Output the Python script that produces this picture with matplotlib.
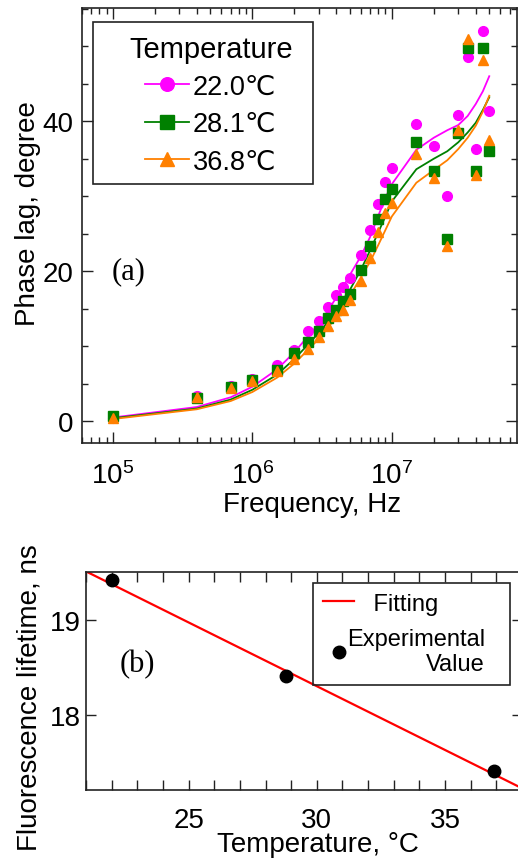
import numpy as np
import matplotlib
matplotlib.use("Agg")
from matplotlib import pyplot as plt
from matplotlib.lines import Line2D
from matplotlib.patches import Rectangle
from matplotlib.ticker import MultipleLocator, LogLocator, NullFormatter

plt.rcParams['font.family'] = ['Liberation Sans', 'DejaVu Sans']
plt.rcParams['mathtext.fontset'] = 'custom'
plt.rcParams['mathtext.rm'] = 'Liberation Sans'
plt.rcParams['mathtext.it'] = 'Liberation Sans'

# (a) phase lag vs frequency
freq = [1e5, 4e5, 7e5, 1e6, 1.5e6, 2e6, 2.5e6, 3e6, 3.5e6, 4e6, 4.5e6, 5e6, 6e6, 7e6,
        8e6, 9e6, 1e7, 1.5e7, 2e7, 2.5e7, 3e7, 3.5e7, 4e7, 4.5e7, 5e7]
temps_a = ['22.0℃', '28.1℃', '36.8℃']
pts_22 = [0.4, 3.4, 4.7, 5.7, 7.5, 9.5, 12.0, 13.4, 15.3, 16.8, 17.9, 19.1, 22.2, 25.5,
          29.0, 31.9, 33.8, 39.6, 36.7, 30.0, 40.8, 48.5, 36.3, 52.0, 41.3]
pts_28 = [0.7, 3.1, 4.6, 5.5, 6.9, 9.1, 10.6, 12.1, 13.8, 14.9, 16.0, 16.9, 20.1, 23.3,
          26.9, 29.6, 31.0, 37.2, 33.3, 24.3, 38.4, 49.7, 33.4, 49.7, 36.0]
pts_36 = [0.5, 3.2, 4.5, 5.4, 6.7, 8.3, 9.7, 11.2, 12.7, 14.0, 14.9, 16.2, 18.7, 21.7,
          25.2, 27.7, 29.1, 35.6, 32.4, 23.3, 38.8, 51.0, 32.8, 48.1, 37.5]
fit_22 = [0.5, 1.9, 3.2, 4.6, 6.9, 9.2, 11.3, 13.0, 14.8, 16.5, 18.0, 19.5, 22.0, 24.6,
          27.4, 29.8, 31.6, 36.2, 37.8, 38.8, 39.5, 40.7, 42.3, 44.0, 46.0]
fit_28 = [0.4, 1.7, 2.9, 4.2, 6.2, 8.3, 10.2, 11.8, 13.3, 14.8, 16.3, 17.5, 20.2, 22.8,
          25.2, 27.3, 29.3, 33.6, 35.0, 36.0, 37.2, 38.5, 39.8, 41.5, 43.2]
fit_36 = [0.3, 1.6, 2.7, 3.9, 5.8, 7.7, 9.5, 11.0, 12.5, 14.0, 15.5, 16.7, 19.2, 21.3,
          23.5, 25.5, 27.3, 31.8, 33.5, 34.8, 36.3, 37.8, 39.4, 41.3, 43.4]

# (b) lifetime vs temperature
temp_b = [22.0, 28.8, 36.9]
lifetime = [19.42, 18.41, 17.41]
fit_slope = -0.134
fit_icept = 22.32

colors = ['#FF00FF', '#008000', '#FF8000']
markers = ['o', 's', '^']
spine_c = '#222222'

fig = plt.figure(figsize=(5.18, 8.62), dpi=100)

# ---- top panel
ax1 = fig.add_axes([0.1583, 0.4849, 0.8397, 0.5047])
for p, f, c, m in zip([pts_22, pts_28, pts_36], [fit_22, fit_28, fit_36], colors, markers):
    ax1.plot(freq, f, color=c, lw=1.3, zorder=2)
    ax1.plot(freq, p, ls='none', marker=m, color=c, ms=7, mec=c, zorder=3)
ax1.set_xscale('log')
ax1.set_xlim(6e4, 7.9e7)
ax1.set_ylim(-2.9, 55.1)
ax1.yaxis.set_major_locator(MultipleLocator(20))
ax1.yaxis.set_minor_locator(MultipleLocator(5))
ax1.xaxis.set_major_locator(LogLocator(base=10, numticks=10))
ax1.xaxis.set_minor_locator(LogLocator(base=10, subs=np.arange(2, 10), numticks=20))
ax1.xaxis.set_minor_formatter(NullFormatter())
ax1.tick_params(which='both', direction='in', top=True, right=True, labelsize=20,
                color=spine_c, width=1.0)
ax1.tick_params(which='major', length=8)
ax1.tick_params(which='minor', length=4)
ax1.tick_params(axis='x', which='major', pad=13)
ax1.tick_params(axis='y', which='major', pad=6)
ax1.set_xlabel('Frequency, Hz', fontsize=20)
ax1.set_ylabel('Phase lag, degree', fontsize=20)
ax1.xaxis.set_label_coords(0.53, -0.11)
ax1.yaxis.set_label_coords(-0.094, 0.53)
ax1.text(0.106, 0.395, '(a)', transform=ax1.transAxes, fontsize=22,
         family=['Liberation Serif', 'DejaVu Serif'], ha='center', va='center')
handles = [Line2D([], [], color=c, marker=m, ms=7, lw=1.3) for c, m in zip(colors, markers)]
leg1 = ax1.legend(handles, temps_a, title='Temperature', loc='upper left',
                  bbox_to_anchor=(0.108, 0.939), fontsize=19.5, title_fontsize=21,
                  frameon=False, markerscale=1.4,
                  handlelength=1.6, handletextpad=0.15, labelspacing=0.42,
                  borderpad=0, borderaxespad=0)
# legend boxes are padded more than matplotlib allows, so draw them separately
ax1.add_patch(Rectangle((0.0253, 0.595), 0.5057, 0.373, transform=ax1.transAxes,
                        fill=False, ec=spine_c, lw=1.2, zorder=5))
for s in ax1.spines.values():
    s.set_color(spine_c)
    s.set_linewidth(1.2)

# ---- bottom panel
ax2 = fig.add_axes([0.166, 0.0824, 0.8417, 0.2529])
tt = np.array([21, 38])
ax2.plot(tt, fit_icept + fit_slope * tt, color='#FF0000', lw=1.6, label='    Fitting', zorder=2)
ax2.plot(temp_b, lifetime, ls='none', marker='o', color='black', ms=9,
         label='Experimental\nValue', zorder=3)
ax2.set_xlim(21, 38)
ax2.set_ylim(17.21, 19.5)
ax2.xaxis.set_major_locator(MultipleLocator(5))
ax2.xaxis.set_minor_locator(MultipleLocator(1))
ax2.yaxis.set_major_locator(MultipleLocator(1))
ax2.tick_params(which='both', direction='in', top=True, right=True, labelsize=20,
                color=spine_c, width=1.0, length=7)
ax2.tick_params(axis='x', pad=12)
ax2.tick_params(axis='y', pad=4)
ax2.set_xlabel('Temperature, °C', fontsize=20)
ax2.set_ylabel('Fluorescence lifetime, ns', fontsize=20)
ax2.xaxis.set_label_coords(0.532, -0.19)
ax2.yaxis.set_label_coords(-0.1, 0.43)
ax2.text(0.117, 0.578, '(b)', transform=ax2.transAxes, fontsize=22,
         family=['Liberation Serif', 'DejaVu Serif'], ha='center', va='center')
leg2 = ax2.legend(loc='upper right', bbox_to_anchor=(0.915, 0.905), fontsize=17,
                  frameon=False, handlelength=1.3,
                  handletextpad=-0.3, labelspacing=0.55, borderpad=0, borderaxespad=0)
for t in leg2.get_texts():
    t.set_multialignment('right')
ax2.add_patch(Rectangle((0.5206, 0.4817), 0.4519, 0.4678, transform=ax2.transAxes,
                        fill=False, ec=spine_c, lw=1.2, zorder=5))
for s in ax2.spines.values():
    s.set_color(spine_c)
    s.set_linewidth(1.2)

fig.savefig('out.png', dpi=100)
